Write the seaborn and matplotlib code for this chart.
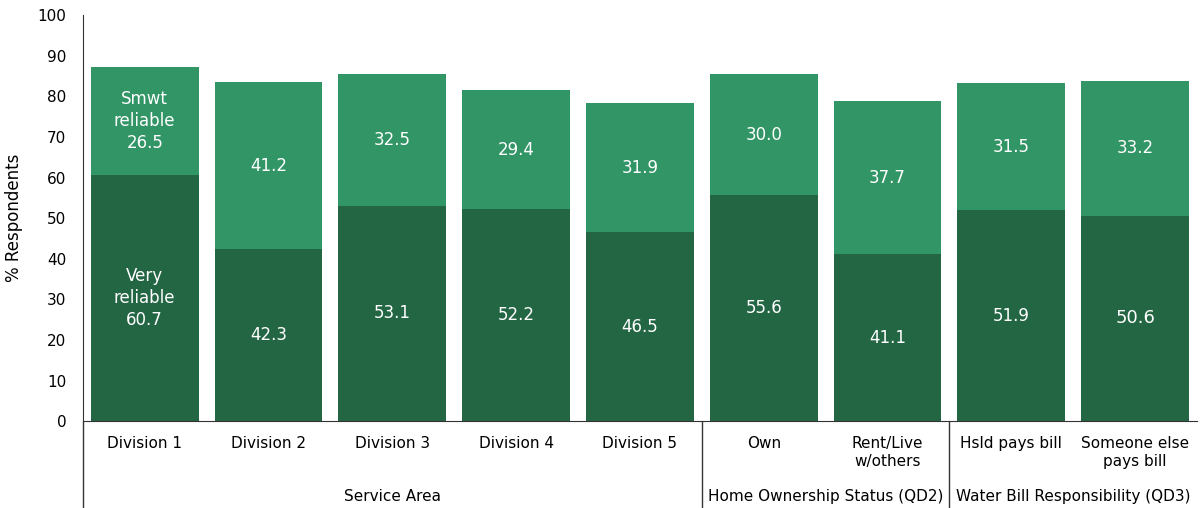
import matplotlib
matplotlib.use('Agg')
import matplotlib.pyplot as plt
import matplotlib.transforms as mtransforms
import seaborn as sns
import pandas as pd

categories = ['Division 1', 'Division 2', 'Division 3', 'Division 4', 'Division 5',
              'Own', 'Rent/Live\nw/others', 'Hsld pays bill', 'Someone else\npays bill']
very_reliable = [60.7, 42.3, 53.1, 52.2, 46.5, 55.6, 41.1, 51.9, 50.6]
smwt_reliable = [26.5, 41.2, 32.5, 29.4, 31.9, 30.0, 37.7, 31.5, 33.2]
groups = ['Service Area', 'Home Ownership Status (QD2)', 'Water Bill Responsibility (QD3)']
group_sizes = [5, 2, 2]

dark = '#236644'
light = '#329566'

df = pd.DataFrame({'cat': categories, 'very': very_reliable, 'smwt': smwt_reliable})
df['total'] = df['very'] + df['smwt']

sns.set_style('white')
plt.rcParams['font.family'] = ['DejaVu Sans']
plt.rcParams['text.color'] = 'black'
plt.rcParams['xtick.color'] = 'black'
plt.rcParams['ytick.color'] = 'black'
plt.rcParams['axes.labelcolor'] = 'black'

fig = plt.figure(figsize=(12, 5.08), dpi=100)
ax = fig.add_axes([0.069, 0.171, 0.9285, 0.799])

sns.barplot(data=df, x='cat', y='total', color=light, saturation=1, width=0.87,
            linewidth=0, ax=ax)
sns.barplot(data=df, x='cat', y='very', color=dark, saturation=1, width=0.87,
            linewidth=0, ax=ax)

# value labels
for i, row in df.iterrows():
    top_mid = row['very'] + row['smwt'] / 2
    bot_mid = row['very'] / 2
    if i == 0:
        ax.text(i, top_mid, 'Smwt\nreliable\n%.1f' % row['smwt'], ha='center', va='center',
                color='white', fontsize=12, linespacing=1.3)
        ax.text(i, bot_mid, 'Very\nreliable\n%.1f' % row['very'], ha='center', va='center',
                color='white', fontsize=12, linespacing=1.3)
    else:
        fs = 13 if i == 8 else 12
        ax.text(i, top_mid, '%.1f' % row['smwt'], ha='center', va='center', color='white', fontsize=12)
        ax.text(i, bot_mid, '%.1f' % row['very'], ha='center', va='center', color='white', fontsize=fs)

ax.set_xlim(-0.5, 8.5)
ax.set_ylim(0, 100)
ax.set_yticks(range(0, 101, 10))
ax.set_xlabel('')
ax.set_ylabel('% Respondents', fontsize=12, labelpad=10)
ax.tick_params(axis='both', length=0, labelsize=11)
ax.tick_params(axis='x', pad=11)
ax.tick_params(axis='y', pad=12)

for s in ['top', 'right']:
    ax.spines[s].set_visible(False)
ax.spines['left'].set_color('#333333')
ax.spines['bottom'].set_color('#333333')

# group separators and labels
trans = mtransforms.blended_transform_factory(ax.transData, ax.transAxes)
start = -0.5
for g, n in zip(groups, group_sizes):
    end = start + n
    ax.plot([start, start], [0, -0.215], transform=trans, color='#333333', lw=1, clip_on=False)
    ax.text((start + end) / 2, -0.185, g, transform=trans, ha='center', va='center', fontsize=11)
    start = end

fig.savefig('out.png', dpi=100)
